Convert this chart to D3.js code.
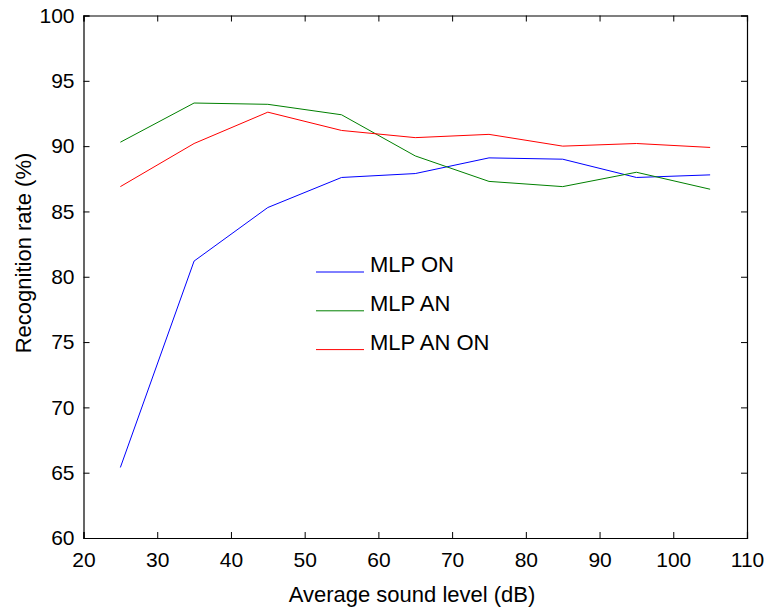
<!DOCTYPE html>
<html>
<head>
<meta charset="utf-8">
<script src="https://cdn.jsdelivr.net/npm/d3@7"></script>
<style>
  body { margin: 0; background: #fff; }
  text { font-family: "Liberation Sans", Arial, sans-serif; fill: #000; }
</style>
</head>
<body>
<div id="chart"></div>
<script>
// sound levels (dB)
const levels = [25, 35, 45, 55, 65, 75, 85, 95, 105];
const mlpOn = [65.4, 81.2, 85.3, 87.6, 87.9, 89.1, 89.0, 87.6, 87.8];
const mlpAn = [90.3, 93.3, 93.2, 92.4, 89.25, 87.3, 86.9, 88.0, 86.7];
const mlpAnOn = [86.9, 90.2, 92.6, 91.2, 90.65, 90.9, 90.0, 90.2, 89.9];
const seriesNames = ["MLP ON", "MLP AN", "MLP AN ON"];
const seriesColors = ["#0000ff", "#008000", "#ff0000"];
const xTicks = [20, 30, 40, 50, 60, 70, 80, 90, 100, 110];
const yTicks = [60, 65, 70, 75, 80, 85, 90, 95, 100];

const width = 766, height = 612;
const margin = { left: 83.5, right: 19, top: 15.5, bottom: 74 };

const svg = d3.select("#chart").append("svg")
  .attr("width", width)
  .attr("height", height);

const x = d3.scaleLinear().domain([20, 110]).range([margin.left, width - margin.right]);
const y = d3.scaleLinear().domain([60, 100]).range([height - margin.bottom, margin.top]);

const tickLen = 6;

// bottom & top axes (ticks pointing inward)
svg.append("g")
  .attr("transform", `translate(0,${y(60)})`)
  .call(d3.axisBottom(x).tickValues(xTicks).tickSize(-tickLen).tickPadding(14).tickFormat(d3.format("d")))
  .call(g => g.selectAll("text").style("font-size", "21px"));
svg.append("g")
  .attr("transform", `translate(0,${y(100)})`)
  .call(d3.axisTop(x).tickValues(xTicks).tickSize(-tickLen).tickFormat(""));

// left & right axes
svg.append("g")
  .attr("transform", `translate(${x(20)},0)`)
  .call(d3.axisLeft(y).tickValues(yTicks).tickSize(-tickLen).tickPadding(9).tickFormat(d3.format("d")))
  .call(g => g.selectAll("text").style("font-size", "21px"));
svg.append("g")
  .attr("transform", `translate(${x(110)},0)`)
  .call(d3.axisRight(y).tickValues(yTicks).tickSize(-tickLen).tickFormat(""));

svg.selectAll(".domain").attr("stroke", "#000").attr("stroke-width", 1.2);
svg.selectAll(".tick line").attr("stroke", "#000").attr("stroke-width", 1);

// series lines
const allSeries = [mlpOn, mlpAn, mlpAnOn];
const line = d3.line()
  .x((d, i) => x(levels[i]))
  .y(d => y(d));

svg.selectAll("path.series")
  .data(allSeries)
  .enter()
  .append("path")
  .attr("class", "series")
  .attr("d", line)
  .attr("fill", "none")
  .attr("stroke", (d, i) => seriesColors[i])
  .attr("stroke-width", 1);

// legend (no box)
const legend = svg.append("g").attr("transform", "translate(316,272)");
seriesNames.forEach((name, i) => {
  const row = legend.append("g").attr("transform", `translate(0,${i * 38.8})`);
  row.append("line")
    .attr("x1", 0).attr("x2", 48)
    .attr("y1", 0).attr("y2", 0)
    .attr("stroke", seriesColors[i])
    .attr("stroke-width", 1);
  row.append("text")
    .attr("x", 54)
    .attr("y", 0)
    .style("font-size", "22px")
    .text(name);
});

// axis labels
svg.append("text")
  .attr("x", 412)
  .attr("y", 602)
  .attr("text-anchor", "middle")
  .style("font-size", "22px")
  .text("Average sound level (dB)");

svg.append("text")
  .attr("transform", "translate(31,253) rotate(-90)")
  .attr("text-anchor", "middle")
  .style("font-size", "22px")
  .text("Recognition rate (%)");
</script>
</body>
</html>
